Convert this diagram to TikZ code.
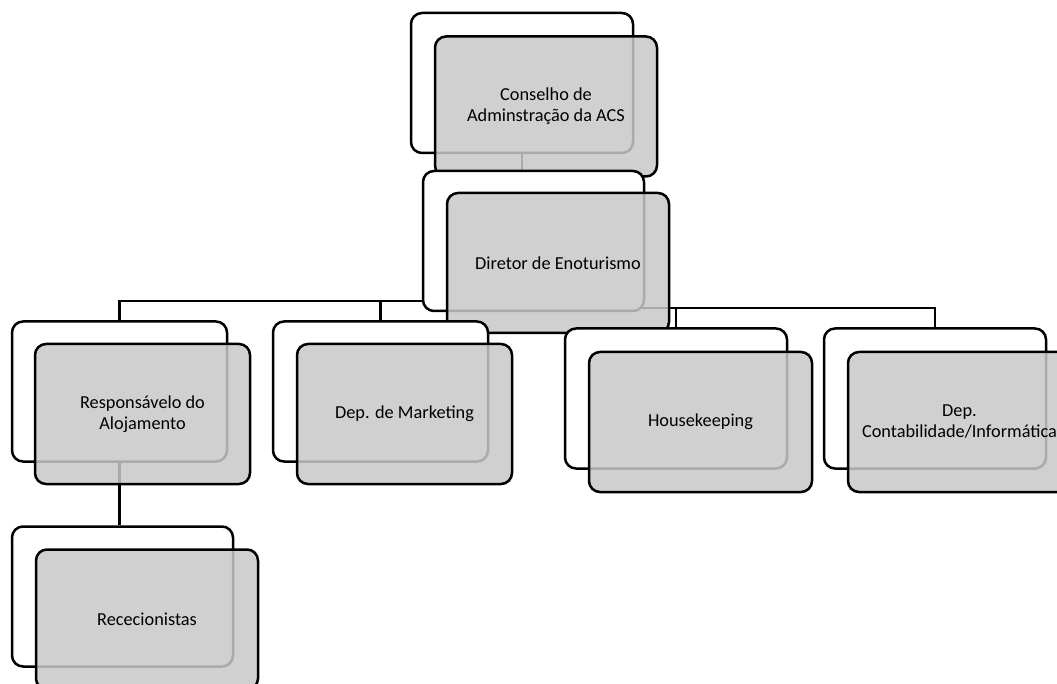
\documentclass[tikz,border=0pt]{standalone}
\usepackage{fontspec}
\setmainfont{Carlito}
\definecolor{boxgray}{RGB}{200,200,200}
\pgfdeclarelayer{bg}
\pgfsetlayers{bg,main}
\begin{document}
\begin{tikzpicture}[x=1pt,y=-1pt,
  wbox/.style={draw=black, fill=white, line width=2.5pt, rounded corners=11pt,
    inner sep=0pt, minimum width=#1, minimum height=140pt},
  wbox/.default=221pt,
  gbox/.style={draw=black, fill=boxgray, fill opacity=0.85, draw opacity=1, text opacity=1,
    line width=2.5pt, rounded corners=11pt, inner sep=0pt, minimum width=#1,
    minimum height=140pt, align=center, font=\fontsize{18.3}{21}\selectfont},
  gbox/.default=222pt,
  conn/.style={draw=black, line width=2.5pt}]
\useasboundingbox (0,0) rectangle (1057,684);

% boxes: each white (back) box followed by its grey (front) box
\node[wbox=222pt] (consW) at (522,83) {};
\node[gbox=222pt] (consG) at (546,106.5) {Conselho de\\Adminstração da ACS};
\node[wbox=221pt] (dirW) at (533.5,241) {};
\node[gbox=222pt] (dirG) at (558,263) {Diretor de Enoturismo};
\node[wbox=215pt] (respW) at (119.5,391.5) {};
\node[gbox=215pt] (respG) at (142.5,414) {Responsávelo do\\Alojamento};
\node[wbox=215pt] (markW) at (380.5,391.5) {};
\node[gbox=215pt] (markG) at (404.5,414) {Dep. de Marketing};
\node[wbox=222pt] (houseW) at (676,398.5) {};
\node[gbox=223pt] (houseG) at (700.5,422) {Housekeeping};
\node[wbox=222pt] (contW) at (935,398.5) {};
\node[gbox=223pt] (contG) at (959.5,422) {Dep.\\Contabilidade/Informática};
\node[wbox=221pt] (recW) at (122.5,596.5) {};
\node[gbox=222pt] (recG) at (147,619.5) {Rececionistas};

% bus coordinates
\coordinate (busL) at (0,301);
\coordinate (busR) at (0,308);

% connectors (behind boxes)
\begin{pgfonlayer}{bg}
\draw[conn] (consW.south) -- (consW.south |- dirW.north);
\draw[conn] (dirW.center) -- (dirW.center |- busL) -| (respW.north);
\draw[conn] (dirW.center |- busL) -| (markW.north);
\draw[conn] (dirW.center) -- (dirW.center |- busR) -| (houseW.north);
\draw[conn] (dirW.center |- busR) -| (contW.north);
\draw[conn] (respW.south) -- (respW.south |- recW.north);
\end{pgfonlayer}
\end{tikzpicture}
\end{document}
